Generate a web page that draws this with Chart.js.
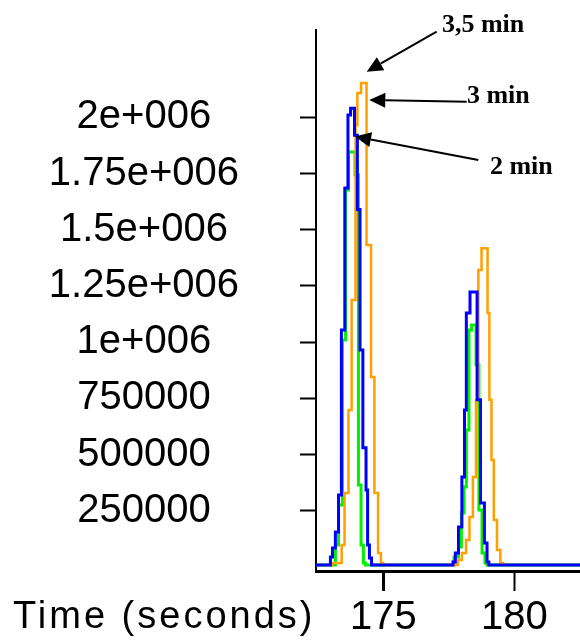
<!DOCTYPE html>
<html>
<head>
<meta charset="utf-8">
<script src="https://cdn.jsdelivr.net/npm/chart.js@4.4.1/dist/chart.umd.min.js"></script>
<style>
  html, body { margin: 0; padding: 0; background: #fff; }
  #wrap { width: 580px; height: 643px; }
</style>
</head>
<body>
<div id="wrap"><canvas id="chromChart" width="580" height="643"></canvas></div>
<script>
// Chromatogram data (time in seconds, intensity counts)
const blueTimes = [172.0, 172.98, 173.06, 173.17, 173.29, 173.40, 173.53, 173.65, 173.75, 173.90, 174.01, 174.11, 174.22, 174.34, 174.40, 174.47, 174.55,
  177.66, 177.75, 177.87, 178.00, 178.10, 178.17, 178.31, 178.58, 178.71, 178.86, 178.96, 179.03, 183.0];
const blueValues = [8000, 44000, 84000, 155000, 320000, 1054000, 1686000, 2010000, 2040000, 1920000, 1590000, 965000, 530000, 342000, 97000, 40000, 8000,
  22000, 62000, 178000, 400000, 698000, 1129000, 1223000, 743000, 284000, 106000, 22000, 8000, 8000];

const greenTimes = [172.0, 173.17, 173.29, 173.44, 173.56, 173.67, 173.92, 174.05, 174.15, 174.24, 174.32,
  177.70, 177.87, 177.98, 178.08, 178.17, 178.27, 178.37, 178.54, 178.65, 178.77, 178.88, 178.96, 183.0];
const greenValues = [8000, 97000, 275000, 1009000, 1677000, 1846000, 1743000, 364000, 97000, 17000, 8000,
  44000, 88000, 240000, 355000, 609000, 1054000, 1076000, 899000, 253000, 62000, 17000, 8000, 8000];

const orangeTimes = [172.0, 173.04, 173.41, 173.52, 173.67, 173.79, 173.94, 174.01, 174.15, 174.36, 174.53, 174.66, 174.80, 174.91, 174.99,
  177.85, 178.00, 178.16, 178.29, 178.42, 178.54, 178.63, 178.75, 178.98, 179.05, 179.13, 179.22, 179.34, 179.47, 179.57, 183.0];
const orangeValues = [8000, 17000, 97000, 329000, 698000, 1187000, 1966000, 2108000, 2153000, 1432000, 845000, 329000, 62000, 17000, 8000,
  31000, 62000, 120000, 222000, 400000, 743000, 1321000, 1418000, 1129000, 743000, 475000, 209000, 75000, 17000, 8000, 8000];

// Axes
const xMin = 172.43, xMax = 182.51;
const yMin = -18240, yMax = 2388300;
const xTickValues = [175, 180];
const xTickLabels = ['175', '180'];
const yTickValues = [250000, 500000, 750000, 1000000, 1250000, 1500000, 1750000, 2000000];
const yTickLabels = ['250000', '500000', '750000', '1e+006', '1.25e+006', '1.5e+006', '1.75e+006', '2e+006'];
const axisCaption = 'Time (seconds)';

// Arrow notes (tip, tail and text anchor in data units)
const noteLabels = ['3,5 min', '3 min', '2 min'];
const noteTipTimes = [174.365, 174.464, 173.919];
const noteTipValues = [2203000, 2077000, 1914000];
const noteTailTimes = [177.037, 178.182, 178.625];
const noteTailValues = [2381000, 2069000, 1810000];
const noteTextTimes = [177.239, 178.193, 179.071];
const noteTextValues = [2411000, 2092000, 1777000];

const sansFont = '"Liberation Sans", Arial, sans-serif';

function toPoints(times, values) {
  return times.map((t, i) => ({ x: t, y: values[i] }));
}

const notesPlugin = {
  id: 'arrowNotes',
  afterDraw(chart) {
    const ctx = chart.ctx;
    const xs = chart.scales.x;
    const ys = chart.scales.y;
    ctx.save();

    // x axis caption sits on the tick label line, left of the plot
    ctx.font = '38px ' + sansFont;
    ctx.letterSpacing = '3px';
    ctx.fillStyle = '#000';
    ctx.textAlign = 'left';
    ctx.textBaseline = 'middle';
    ctx.fillText(axisCaption, 13, xs.top + 47);
    ctx.letterSpacing = '0px';

    ctx.strokeStyle = '#000';
    ctx.lineWidth = 2;
    ctx.font = 'bold 26px "Liberation Serif", "Times New Roman", serif';
    noteLabels.forEach((label, i) => {
      const tipX = xs.getPixelForValue(noteTipTimes[i]);
      const tipY = ys.getPixelForValue(noteTipValues[i]);
      const tailX = xs.getPixelForValue(noteTailTimes[i]);
      const tailY = ys.getPixelForValue(noteTailValues[i]);
      const ang = Math.atan2(tipY - tailY, tipX - tailX);
      const head = 16, half = 7.5;
      const bx = tipX - head * Math.cos(ang);
      const by = tipY - head * Math.sin(ang);

      ctx.beginPath();
      ctx.moveTo(tailX, tailY);
      ctx.lineTo(bx, by);
      ctx.stroke();

      ctx.beginPath();
      ctx.moveTo(tipX, tipY);
      ctx.lineTo(bx + half * Math.sin(ang), by - half * Math.cos(ang));
      ctx.lineTo(bx - half * Math.sin(ang), by + half * Math.cos(ang));
      ctx.closePath();
      ctx.fill();

      ctx.fillText(label, xs.getPixelForValue(noteTextTimes[i]), ys.getPixelForValue(noteTextValues[i]));
    });
    ctx.restore();
  }
};

const ctx = document.getElementById('chromChart').getContext('2d');
new Chart(ctx, {
  type: 'line',
  data: {
    datasets: [
      { label: 'blue', data: toPoints(blueTimes, blueValues), borderColor: '#0000ff', borderWidth: 3 },
      { label: 'orange', data: toPoints(orangeTimes, orangeValues), borderColor: '#ff9f00', borderWidth: 2.5 },
      { label: 'green', data: toPoints(greenTimes, greenValues), borderColor: '#00f000', borderWidth: 3 }
    ]
  },
  options: {
    responsive: false,
    animation: false,
    events: [],
    datasets: {
      line: { stepped: true, pointRadius: 0, tension: 0, fill: false, borderJoinStyle: 'miter', borderCapStyle: 'butt' }
    },
    layout: { padding: { top: 30, left: 0, right: 0, bottom: 0 } },
    plugins: {
      legend: { display: false },
      tooltip: { enabled: false }
    },
    scales: {
      x: {
        type: 'linear',
        min: xMin,
        max: xMax,
        afterFit(scale) {
          scale.height = 72;
          scale.paddingLeft = 0;
          scale.paddingRight = 0;
        },
        afterBuildTicks(scale) { scale.ticks = xTickValues.map(v => ({ value: v })); },
        border: { display: true, color: '#000', width: 3 },
        grid: {
          drawOnChartArea: false,
          drawTicks: true,
          tickLength: 20,
          tickColor: '#000',
          tickWidth: (c) => (c.tick && c.tick.value === 175 ? 3 : 2)
        },
        ticks: {
          autoSkip: false,
          maxRotation: 0,
          padding: 3,
          color: '#000',
          font: { family: sansFont, size: 40 },
          callback: (value, index) => xTickLabels[index]
        }
      },
      y: {
        type: 'linear',
        min: yMin,
        max: yMax,
        afterFit(scale) {
          scale.width = 316;
          scale.paddingTop = 0;
          scale.paddingBottom = 0;
        },
        afterBuildTicks(scale) { scale.ticks = yTickValues.map(v => ({ value: v })); },
        border: { display: true, color: '#000', width: 2 },
        grid: { drawOnChartArea: false, drawTicks: true, tickLength: 16, tickColor: '#000', tickWidth: 2 },
        ticks: {
          autoSkip: false,
          crossAlign: 'center',
          padding: 61,
          color: '#000',
          font: { family: sansFont, size: 40 },
          callback: (value, index) => yTickLabels[index]
        }
      }
    }
  },
  plugins: [notesPlugin]
});
</script>
</body>
</html>
